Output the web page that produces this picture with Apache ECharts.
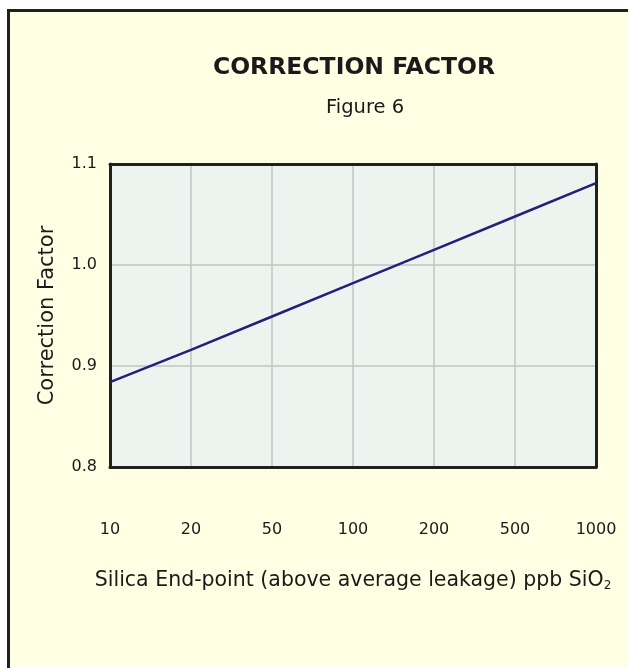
<!DOCTYPE html>
<html>
<head>
<meta charset="utf-8">
<script src="https://cdn.jsdelivr.net/npm/echarts@6/dist/echarts.min.js"></script>
<style>
  html, body { margin: 0; padding: 0; background: #fff; }
</style>
</head>
<body>
<div id="main" style="width: 628px; height: 668px;"></div>
<script>
// silica end-point, ppb (log-spaced categories)
var categories = ['10', '20', '50', '100', '200', '500', '1000']
// correction factor read at each category
var factorValues = [0.884, 0.916, 0.949, 0.982, 1.015, 1.048, 1.081]
var yTicks = { min: 0.8, max: 1.1, step: 0.1 }

var fontName = '"DejaVu Sans", sans-serif'
var ink = '#1a1a1a'
var frame = { color: '#231F1C', width: 3 }
var chartDom = document.getElementById('main')
var myChart = echarts.init(chartDom)

// plain axis used only to draw the top / right edge of the plot frame
function frameAxis(extra) {
  return Object.assign({
    axisLine: { show: true, onZero: false, lineStyle: frame },
    axisTick: { show: false },
    axisLabel: { show: false },
    splitLine: { show: false }
  }, extra)
}

var option = {
  backgroundColor: '#ffffff',
  textStyle: { fontFamily: fontName },
  graphic: [
    {
      type: 'rect',
      z: -10,
      shape: { x: 7, y: 9, width: 621, height: 659 },
      style: { fill: '#FFFFE3' }
    },
    {
      type: 'polyline',
      z: -9,
      shape: { points: [[8.5, 668], [8.5, 10.5], [628, 10.5]] },
      style: { stroke: '#231F1C', lineWidth: 3, fill: null }
    },
    {
      type: 'text',
      x: 354,
      y: 68,
      style: {
        text: 'CORRECTION FACTOR',
        fontFamily: fontName,
        fontWeight: 'bold',
        fontSize: 23.5,
        fill: ink,
        align: 'center',
        verticalAlign: 'middle'
      }
    },
    {
      type: 'text',
      x: 365,
      y: 108,
      style: {
        text: 'Figure 6',
        fontFamily: fontName,
        fontSize: 19.5,
        fill: ink,
        align: 'center',
        verticalAlign: 'middle'
      }
    }
  ],
  grid: {
    left: 110,
    right: 32,
    top: 164,
    bottom: 201,
    show: true,
    backgroundColor: '#EBF4EF',
    borderWidth: 0
  },
  xAxis: [
    {
      type: 'category',
      boundaryGap: false,
      data: categories,
      name: 'Silica End-point (above average leakage) ppb SiO{sub|2}',
      nameLocation: 'middle',
      nameGap: 102,
      nameTextStyle: {
        fontSize: 20.5,
        color: ink,
        rich: {
          sub: { fontSize: 12, verticalAlign: 'bottom', padding: [11, 0, 0, 0], color: ink }
        }
      },
      axisLine: { show: true, onZero: false, lineStyle: frame },
      axisTick: { show: false },
      axisLabel: { margin: 55, fontSize: 16, color: ink },
      splitLine: {
        show: true,
        showMinLine: false,
        showMaxLine: false,
        lineStyle: { color: '#C4C4C4', width: 1.5 }
      }
    },
    frameAxis({ type: 'category', boundaryGap: false, data: categories, position: 'top' })
  ],
  yAxis: [
    {
      type: 'value',
      min: yTicks.min,
      max: yTicks.max,
      interval: yTicks.step,
      name: 'Correction Factor',
      nameLocation: 'middle',
      nameGap: 52,
      nameTextStyle: { fontSize: 21, color: ink },
      axisLine: { show: true, onZero: false, lineStyle: frame },
      axisTick: { show: false },
      axisLabel: {
        margin: 13,
        fontSize: 16,
        color: ink,
        formatter: function (v) { return v.toFixed(1) }
      },
      splitLine: {
        show: true,
        showMinLine: false,
        showMaxLine: false,
        lineStyle: { color: '#C4C4C4', width: 1.5 }
      }
    },
    frameAxis({ type: 'value', min: yTicks.min, max: yTicks.max, interval: yTicks.step, position: 'right' })
  ],
  series: [
    {
      type: 'line',
      data: factorValues,
      showSymbol: false,
      lineStyle: { color: '#2B1B7A', width: 2.5 },
      silent: true
    }
  ]
}

option && myChart.setOption(option)
</script>
</body>
</html>
